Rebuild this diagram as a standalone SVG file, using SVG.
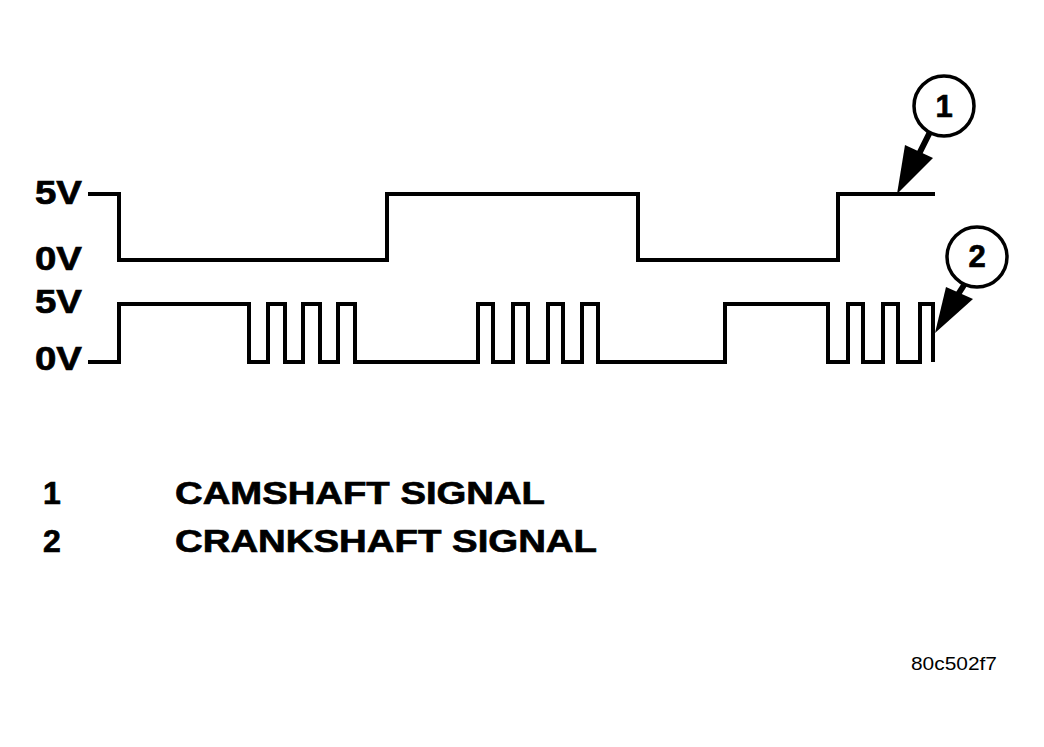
<svg xmlns="http://www.w3.org/2000/svg" width="1044" height="747" viewBox="0 0 1044 747">
<style>
.lbl{font-family:"Liberation Sans",Arial,sans-serif;font-weight:bold;fill:#000;stroke:#000;stroke-width:0.7}
.wave{fill:none;stroke:#000;stroke-width:4;stroke-linejoin:miter}
.circ{fill:#fff;stroke:#000;stroke-width:3.5}
.shaft{stroke:#000;stroke-width:6;fill:none}
</style>
<rect width="1044" height="747" fill="#fff"/>
<g id="axis-labels">
<text class="lbl" x="35" y="204" font-size="33" textLength="47" lengthAdjust="spacingAndGlyphs">5V</text>
<text class="lbl" x="35" y="270" font-size="33" textLength="47" lengthAdjust="spacingAndGlyphs">0V</text>
<text class="lbl" x="35" y="313" font-size="33" textLength="47" lengthAdjust="spacingAndGlyphs">5V</text>
<text class="lbl" x="35" y="370" font-size="33" textLength="47" lengthAdjust="spacingAndGlyphs">0V</text>
</g>
<g id="camshaft-signal">
<path class="wave" d="M88,194 H119 V260 H387 V194 H638 V260 H838 V194 H935"/>
</g>
<g id="crankshaft-signal">
<path class="wave" d="M88,362 H119 V304 H249 V362 H268 V304 H285 V362 H303 V304 H320 V362 H338 V304 H355 V362 H478 V304 H493 V362 H513 V304 H528 V362 H548 V304 H563 V362 H582 V304 H598 V362 H725 V304 H828 V362 H848 V304 H863 V362 H883 V304 H898 V362 H920 V304 H933 V362"/>
</g>
<g id="connectors">
<line class="shaft" x1="930" y1="132" x2="918" y2="156"/>
<polygon points="905,145 933,158 897,194" fill="#000"/>
<line class="shaft" x1="966" y1="282" x2="957" y2="296"/>
<polygon points="946,287 973,299 935,333" fill="#000"/>
</g>
<g id="callout-1">
<circle class="circ" cx="944" cy="106" r="30"/>
<text class="lbl" x="944" y="117" font-size="31" text-anchor="middle">1</text>
</g>
<g id="callout-2">
<circle class="circ" cx="977" cy="257" r="30"/>
<text class="lbl" x="977" y="267" font-size="31" text-anchor="middle">2</text>
</g>
<g id="legend">
<text class="lbl" x="43" y="504" font-size="32">1</text>
<text class="lbl" x="175" y="504" font-size="32" textLength="370" lengthAdjust="spacingAndGlyphs">CAMSHAFT SIGNAL</text>
<text class="lbl" x="43" y="552" font-size="32">2</text>
<text class="lbl" x="175" y="552" font-size="32" textLength="422" lengthAdjust="spacingAndGlyphs">CRANKSHAFT SIGNAL</text>
</g>
<text x="911" y="670" font-family="Liberation Sans, Arial, sans-serif" font-size="19" fill="#000" textLength="86" lengthAdjust="spacingAndGlyphs">80c502f7</text>
</svg>
